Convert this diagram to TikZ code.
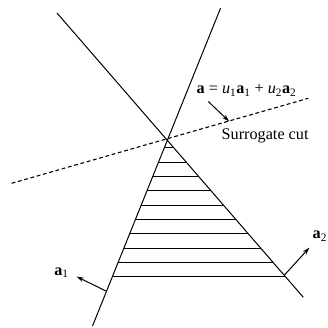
\documentclass[tikz,border=0pt]{standalone}
\usepackage{fontspec}
\setmainfont{Liberation Serif}
\usetikzlibrary{arrows.meta}
\begin{document}
\begin{tikzpicture}[x=1pt,y=-1pt,
  edge/.style={line width=1pt,black},
  cut/.style={line width=1.1pt,black,dash pattern=on 3.8pt off 2.7pt},
  hatch/.style={line width=1pt,black},
  vec/.style={line width=1pt,black,-{Stealth[length=7.5pt,width=4.5pt]}},
  lab/.style={inner sep=0pt,font=\fontsize{16.2}{19}\selectfont}]
\useasboundingbox (0,0) rectangle (327,328);
% lines
\coordinate (Atop) at (220.5,8.3);
\coordinate (Abot) at (92.5,326);
\coordinate (Btop) at (57,13);
\coordinate (Bbot) at (303.3,297.3);
\coordinate (Cl) at (11.7,183.3);
\coordinate (Cr) at (308.3,98.3);
\draw[edge] (Atop) -- (Abot);
\draw[edge] (Btop) -- (Bbot);
\draw[cut] (Cl) -- (Cr);
% hatching
\foreach \k in {0,...,9}{
  \pgfmathsetmacro{\yy}{147.7+14.33*\k}
  \pgfmathsetmacro{\xa}{220.5-(\yy-8.3)/317.7*128}
  \pgfmathsetmacro{\xb}{57+(\yy-13)/284.3*246.3}
  \draw[hatch] (\xa,\yy) -- (\xb,\yy);
}
% normal vectors
\coordinate (a1s) at (105.8,291);
\coordinate (a1e) at (76.5,276.5);
\coordinate (a2s) at (284.5,275);
\coordinate (a2e) at (309.5,247.5);
\draw[vec] (a1s) -- (a1e);
\draw[vec] (a2s) -- (a2e);
% cut pointer
\coordinate (ps) at (208.3,101.5);
\coordinate (pe) at (229.3,121.5);
\draw[vec] (ps) -- (pe);
% labels
\node[lab] (la1) at (61.5,272.5) {\textbf{a}\textsubscript{1}};
\node[lab] (la2) at (319.8,236) {\textbf{a}\textsubscript{2}};
\node[lab,anchor=base west] (lform) at (196.5,94) {\textbf{a} = \textit{u}\textsubscript{1}\textbf{a}\textsubscript{1} + \textit{u}\textsubscript{2}\textbf{a}\textsubscript{2}};
\node[lab,anchor=base west] (lcut) at (221.5,140) {Surrogate cut};
\end{tikzpicture}
\end{document}
